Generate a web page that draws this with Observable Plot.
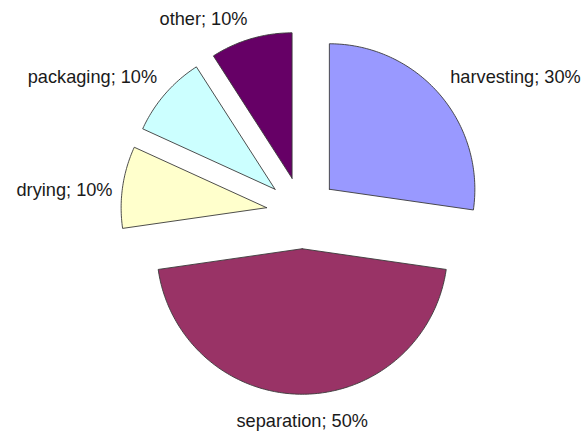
<!DOCTYPE html>
<html><head><meta charset="utf-8">
<script src="https://cdn.jsdelivr.net/npm/d3@7"></script>
<script src="https://cdn.jsdelivr.net/npm/@observablehq/plot@0.6"></script>
<style>body{margin:0;background:#fff}#chart{width:584px;height:432px}</style>
</head><body><div id="chart"></div>
<script>
// Data
const categories = ["harvesting", "separation", "drying", "packaging", "other"];
const values = [30, 50, 10, 10, 10];
const percentLabels = ["30%", "50%", "10%", "10%", "10%"];
const colors = ["#9999FF", "#993366", "#FFFFCC", "#CCFFFF", "#660066"];

// Layout
const W = 584, H = 432;
const cx = 301.7, cy = 212.3, r = 145.5;   // pixel centre & radius
const explode = 0.247;                       // in radius units
const labelR = 1.31;

const arcs = d3.pie().sort(null).value(d => d)(values);

const pts = [];
const lbls = [];
arcs.forEach((a, i) => {
  const k = categories[i];
  const m = (a.startAngle + a.endAngle) / 2;
  const ox = explode * Math.sin(m), oy = explode * Math.cos(m);
  pts.push({k, x: ox, y: oy});
  const n = Math.max(2, Math.ceil((a.endAngle - a.startAngle) / (Math.PI / 180)));
  for (let j = 0; j <= n; j++) {
    const t = a.startAngle + (a.endAngle - a.startAngle) * j / n;
    pts.push({k, x: ox + Math.sin(t), y: oy + Math.cos(t)});
  }
  pts.push({k, x: ox, y: oy});
  const s = Math.sin(m), c = Math.cos(m);
  lbls.push({
    text: `${k}; ${percentLabels[i]}`,
    x: labelR * s, y: labelR * c,
    ta: s < -0.1 ? "end" : s > 0.1 ? "start" : "middle",
    la: c > 0.3 ? "bottom" : c < -0.3 ? "top" : "middle"
  });
});

const combos = d3.groups(lbls, d => d.ta + "|" + d.la);
const textMarks = combos.map(([key, rows]) => {
  const [ta, la] = key.split("|");
  return Plot.text(rows, {
    x: "x", y: "y", text: "text",
    textAnchor: ta, lineAnchor: la,
    dx: ta === "start" ? 4 : ta === "end" ? -1 : 0,
    dy: la === "top" ? 11 : la === "bottom" ? -5 : 4,
    fontSize: 18.2,
    fontFamily: "Liberation Sans, Arial, sans-serif",
    fill: "#1a1a1a"
  });
});

const chart = Plot.plot({
  width: W, height: H,
  margin: 0,
  x: {domain: [(0 - cx) / r, (W - cx) / r], axis: null},
  y: {domain: [-(H - cy) / r, cy / r], axis: null},
  color: {domain: categories, range: colors},
  style: {background: "#fff"},
  marks: [
    Plot.line(pts, {x: "x", y: "y", z: "k", fill: "k", stroke: "#3a3a3a", strokeWidth: 0.9, curve: "linear"}),
    ...textMarks
  ]
});
document.getElementById("chart").appendChild(chart);
</script>
</body></html>
